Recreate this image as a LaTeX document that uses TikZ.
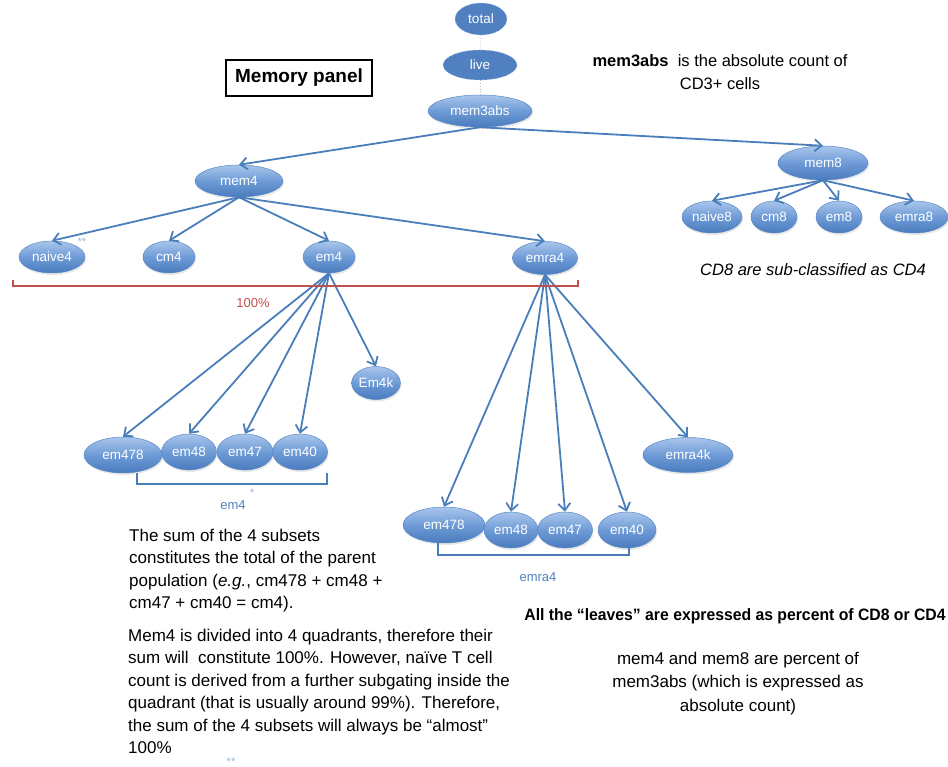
\documentclass[tikz,border=0pt]{standalone}
\usepackage{fontspec}
\setmainfont{Liberation Sans}
\usetikzlibrary{shapes.geometric,arrows.meta,shadows}
\definecolor{nodetop}{HTML}{A9C6EC}
\definecolor{nodemid}{HTML}{6E9BD6}
\definecolor{nodebot}{HTML}{4A7BBE}
\definecolor{nodeedge}{HTML}{5A88C6}
\definecolor{arrowblue}{HTML}{4A7EBB}
\definecolor{labelblue}{HTML}{4F81BD}
\definecolor{starblue}{HTML}{95B3D7}
\definecolor{redline}{HTML}{C0504D}
\definecolor{darkfill}{HTML}{5080C0}
\definecolor{dotgrey}{HTML}{B4BCCB}
\begin{document}
\begin{tikzpicture}[x=1pt,y=-1pt,
  cell/.style={ellipse, draw=nodeedge, line width=0.5pt,
    top color=nodetop, bottom color=nodebot, middle color=nodemid,
    text=white, font=\fontsize{13.5}{15}\selectfont, inner sep=0pt,
    drop shadow={opacity=0.18, shadow xshift=1pt, shadow yshift=-2pt}},
  darkcell/.style={ellipse, fill=darkfill, draw=nodetop, densely dashed, line width=0.4pt,
    text=white, font=\fontsize{13.5}{15}\selectfont, inner sep=0pt},
  arr/.style={draw=arrowblue, line width=1.8pt, -{Straight Barb[length=7pt,width=12pt]}},
  dotline/.style={draw=dotgrey, line width=0.8pt, dotted},
  redbracket/.style={draw=redline, line width=2pt},
  bluebracket/.style={draw=arrowblue, line width=1.5pt},
  para/.style={align=left, font=\fontsize{17}{22.5}\selectfont, inner sep=0pt},
  cpara/.style={align=center, font=\fontsize{17}{23.5}\selectfont, inner sep=0pt},
  smalllabel/.style={font=\fontsize{13}{14}\selectfont, inner sep=0pt},
  star/.style={text=starblue, font=\fontsize{11}{12}\selectfont, inner sep=0pt}
]
\useasboundingbox (0,0) rectangle (948,767);

% top chain
\node[darkcell, minimum width=52, minimum height=32] (total) at (481,19) {total};
\node[darkcell, minimum width=74, minimum height=30] (live) at (480,65) {live};
\node[cell, minimum width=104, minimum height=32] (mem3abs) at (480,111) {mem3abs};
\draw[dotline] (total.south) -- (live.north);
\draw[dotline] (live.south) -- (mem3abs.north);

% level 2
\node[cell, minimum width=88, minimum height=32] (mem4) at (239,181) {mem4};
\node[cell, minimum width=90, minimum height=34] (mem8) at (823,163) {mem8};

% CD4 children
\node[cell, minimum width=66, minimum height=32] (naive4) at (52,257) {naive4};
\node[cell, minimum width=52, minimum height=32] (cm4) at (169,257) {cm4};
\node[cell, minimum width=52, minimum height=32] (em4) at (329,257) {em4};
\node[cell, minimum width=65, minimum height=33] (emra4) at (545,258) {emra4};

% CD8 children
\node[cell, minimum width=60, minimum height=32] (naive8) at (712,217) {naive8};
\node[cell, minimum width=46, minimum height=32] (cm8) at (774,217) {cm8};
\node[cell, minimum width=46, minimum height=32] (em8) at (839,217) {em8};
\node[cell, minimum width=68, minimum height=32] (emra8) at (914,217) {emra8};

% em4 subsets
\node[cell, minimum width=46, minimum height=33] (em4k) at (376,383) {Em4k};
\node[cell, minimum width=78, minimum height=36] (a478) at (123,455) {em478};
\node[cell, minimum width=55, minimum height=36] (a48) at (189,452) {em48};
\node[cell, minimum width=56, minimum height=36] (a47) at (245,452) {em47};
\node[cell, minimum width=55, minimum height=36] (a40) at (300,452) {em40};

% emra4 subsets
\node[cell, minimum width=90, minimum height=35] (emra4k) at (688,455) {emra4k};
\node[cell, minimum width=82, minimum height=36] (b478) at (444,525) {em478};
\node[cell, minimum width=54, minimum height=36] (b48) at (511,530) {em48};
\node[cell, minimum width=55, minimum height=36] (b47) at (565,530) {em47};
\node[cell, minimum width=58, minimum height=36] (b40) at (627,530) {em40};

% connectors
\draw[arr] (mem3abs.south) -- (mem4.north);
\draw[arr] (mem3abs.south) -- (mem8.north);
\foreach \c in {naive4,cm4,em4,emra4} \draw[arr] (mem4.south) -- (\c.north);
\foreach \c in {naive8,cm8,em8,emra8} \draw[arr] (mem8.south) -- (\c.north);
\foreach \c in {a478,a48,a47,a40,em4k} \draw[arr] (em4.south) -- (\c.north);
\foreach \c in {b478,b48,b47,b40,emra4k} \draw[arr] (emra4.south) -- (\c.north);

% brackets
\coordinate (r1) at (13,280); \coordinate (r2) at (578,280);
\draw[redbracket] (r1) -- ++(0,6.5) -| (r2);
\node[smalllabel, text=redline] (pct) at (253,303) {100\%};
\coordinate (e1) at (137,473); \coordinate (e2) at (327,473);
\draw[bluebracket] (e1) -- ++(0,11) -| (e2);
\node[smalllabel, text=labelblue] (em4lab) at (233,505) {em4};
\node[star] (st1) at (252,493) {*};
\coordinate (f1) at (438,543); \coordinate (f2) at (629,548);
\draw[bluebracket] (f1) -- ++(0,12) -| (f2);
\node[smalllabel, text=labelblue] (emra4lab) at (538,577) {emra4};
\node[star] (st2) at (82,242) {**};

% title box
\node[draw=black, line width=1.2pt, minimum width=146, minimum height=36, inner sep=0pt,
  font=\bfseries\fontsize{19}{20}\selectfont] (title) at (299,78) {Memory panel};

% annotations (anchor=base is the baseline of the last line)
\node[cpara, font=\fontsize{16.5}{23}\selectfont, anchor=base] (ann1) at (720,90)
  {\textbf{mem3abs} \ is the absolute count of\\CD3+ cells};
\node[font=\itshape\fontsize{16.5}{18}\selectfont, inner sep=0pt, anchor=base] (ann2) at (813,276)
  {CD8 are sub-classified as CD4};
\node[para, anchor=base west] (p1) at (129,608.5)
  {The sum of the 4 subsets\\constitutes the total of the parent\\population (\textit{e.g.}, cm478 + cm48 +\\cm47 + cm40 = cm4).};
\node[para, anchor=base west] (p2) at (128,753.5)
  {Mem4 is divided into 4 quadrants, therefore their\\sum will \ constitute 100\%. However, naïve T cell\\count is derived from a further subgating inside the\\quadrant (that is usually around 99\%). Therefore,\\the sum of the 4 subsets will always be “almost”\\100\%};
\node[star, anchor=north] (st3) at (231,758) {**};
\node[inner sep=0pt, anchor=base, font=\bfseries\fontsize{16.5}{18}\selectfont] (ann3) at (735,620)
  {\scalebox{0.955}[1]{All the “leaves” are expressed as percent of CD8 or CD4}};
\node[cpara, anchor=base] (p3) at (738,711)
  {mem4 and mem8 are percent of\\mem3abs (which is expressed as\\absolute count)};
\end{tikzpicture}
\end{document}
